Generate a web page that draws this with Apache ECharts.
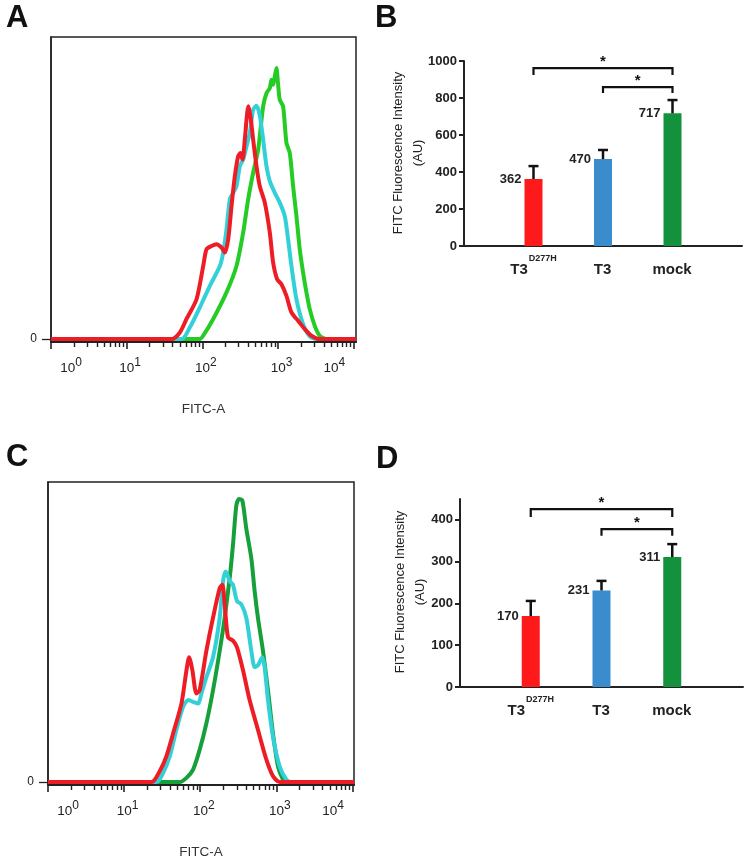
<!DOCTYPE html>
<html><head><meta charset="utf-8">
<script src="https://cdn.jsdelivr.net/npm/echarts@6/dist/echarts.min.js"></script>
<style>html,body{margin:0;padding:0;background:#fff}#c{width:745px;height:860px}</style>
</head><body><div id="c"></div>
<script>
const FONT = '"Liberation Sans", Arial, sans-serif';

// ---- Histogram axis (log10 of FITC-A) ----
const decadeTicks = [0, 1, 2, 3, 4];
const decadeExp = ['0', '1', '2', '3', '4'];
const histXName = 'FITC-A';

// ---- Panel A histograms (x = log10 FITC-A, y = % of max) ----
const A_green_x = [0,1.967,2.011,2.143,2.319,2.451,2.539,2.605,2.671,2.737,2.803,2.847,2.891,2.913,2.935,2.957,2.979,3.001,3.023,3.067,3.111,3.155,3.199,3.243,3.287,3.331,3.375,3.419,3.485,3.551,3.639,4.03];
const A_green_y = [0,0,1.1,6.7,15.6,24.4,35.6,46.7,55.6,63.3,77.8,82.2,83.9,86.7,85,87.8,90.6,85,80,77.8,65.6,62.2,51.1,41.1,30,22.2,15.6,10,4.4,1.1,0,0];
const A_cyan_x = [0,1.725,1.835,1.967,2.099,2.231,2.275,2.319,2.363,2.407,2.451,2.495,2.539,2.583,2.627,2.671,2.715,2.759,2.803,2.847,2.891,2.957,3.023,3.089,3.133,3.177,3.243,3.331,3.419,3.507,4.03];
const A_cyan_y = [0,0,3.9,10.6,17.8,24.4,28.9,36.7,46.7,48.9,51.1,57.8,60,64.4,68.9,76.7,78,74.7,66.7,57.8,52.8,48.9,45.6,41.1,33.3,24.4,13.3,5,0.9,0,0];
const A_red_x = [0,1.593,1.703,1.791,1.923,2.011,2.055,2.121,2.187,2.253,2.297,2.341,2.385,2.429,2.473,2.503,2.530,2.561,2.592,2.609,2.636,2.671,2.715,2.759,2.825,2.891,2.935,2.988,3.045,3.111,3.177,3.265,3.353,3.441,3.551,4.03];
const A_red_y = [0,0,2.2,6.7,13.3,24.4,30,31.1,31.7,30.6,28.9,33.3,44.4,54.4,61.1,62.2,60,66.7,75.6,77.8,74.4,66.7,57.8,51.1,45.6,35.6,25.6,20,18.3,14.4,8.9,6.1,3.3,1.1,0,0];

// ---- Panel C histograms ----
const C_green_x = [0,1.731,1.819,1.906,1.993,2.081,2.168,2.256,2.321,2.387,2.43,2.474,2.509,2.553,2.605,2.671,2.715,2.758,2.824,2.89,2.955,3.021,3.086,3.13,4.02];
const C_green_y = [0,0,1.4,4.2,10.9,19.8,30.9,44.2,55.3,68.7,79.8,93.1,95.3,94.8,85.3,75.3,64.2,55.3,44.2,30.9,16.4,5.3,0.9,0,0];
const C_cyan_x = [0,1.425,1.513,1.6,1.687,1.775,1.84,1.906,1.972,2.015,2.081,2.168,2.256,2.299,2.334,2.387,2.43,2.483,2.54,2.605,2.671,2.715,2.758,2.815,2.846,2.89,2.955,3.043,3.13,3.196,4.02];
const C_cyan_y = [0,0,3.1,8.7,17.6,25.3,27.6,27,26.4,29.8,35.3,42,55.3,67.6,70.9,67.6,66.4,60.9,59.8,55.3,44.2,38.7,39.3,42,38.7,27.6,15.3,5.3,0.9,0,0];
const C_red_x = [0,1.36,1.469,1.556,1.644,1.753,1.819,1.854,1.897,1.95,1.993,2.081,2.168,2.256,2.291,2.321,2.365,2.43,2.483,2.562,2.649,2.758,2.868,2.955,3.043,4.02];
const C_red_y = [0,0,3.7,8.7,16.4,26.4,37.6,42,37.6,29.8,31,44.2,55.3,65.3,66.4,59.8,48.7,47.6,45.3,37.6,27.6,17.6,7.6,2,0,0];

// ---- Bar panels ----
const barCats = ['T3', 'T3', 'mock'];
const barSups = ['D277H', '', ''];
const barPos = [1, 2, 3];
const B_values = [362, 470, 717];
const B_errors = [70, 49, 72];
const D_values = [170, 231, 311];
const D_errors = [36, 23, 31];
const B_yTicks = [0, 200, 400, 600, 800, 1000];
const D_yTicks = [0, 100, 200, 300, 400];
// brackets: [from, to, top value, drop value]
const B_brackets = [[1, 3, 962, 924], [2, 3, 859, 827]];
const D_brackets = [[1, 3, 426, 407], [2, 3, 378, 362]];
const yTitle = 'FITC Fluorescence Intensity\n(AU)';

const histColors = { red: '#ee1c24', cyan: '#33d0d8', greenA: '#26cc26', greenC: '#15a03a' };
const barColors = ['#fe1a1a', '#3b8ccc', '#14913c'];

// ----------------------------------------------------------
const zip = (xs, ys) => xs.map((x, i) => [x, ys[i]]);
const minorTicks = [];
for (let n = 0; n < 4; n++) for (let k = 2; k <= 9; k++) minorTicks.push(n + Math.log10(k));

function histLabel(v) {
  const i = decadeTicks.indexOf(v);
  if (i < 0) return '';
  const last = decadeTicks.length - 1;
  const b = i === 0 ? 'b0' : 'b';
  const s = i === last ? 's4' : 's';
  return '{' + b + '|10}{' + s + '|' + decadeExp[i] + '}';
}
const histRich = {
  b: { fontFamily: FONT, fontSize: 13.5, color: '#222', padding: [0, 0, 0, 7] },
  b0: { fontFamily: FONT, fontSize: 13.5, color: '#222', padding: [0, 0, 0, 40] },
  s: { fontFamily: FONT, fontSize: 12, color: '#222', padding: [0, 0, 11, 0] },
  s4: { fontFamily: FONT, fontSize: 12, color: '#222', padding: [0, 46, 11, 0] }
};

function histX(grid, max) {
  return {
    type: 'value', gridIndex: grid, min: 0, max: max, position: 'bottom',
    axisLine: { show: true, onZero: false, lineStyle: { color: '#222', width: 2 } },
    axisTick: { show: true, customValues: decadeTicks, length: 7, lineStyle: { color: '#222', width: 1.6 } },
    axisLabel: { customValues: decadeTicks, formatter: histLabel, rich: histRich, margin: 15 },
    splitLine: { show: false },
    name: histXName, nameLocation: 'middle', nameGap: 60,
    nameTextStyle: { fontFamily: FONT, fontSize: 13.5, color: '#333' }
  };
}
function histY(grid) {
  return {
    type: 'value', gridIndex: grid, min: -1, max: 101,
    axisLine: { show: true, onZero: false, lineStyle: { color: '#222', width: 1.5 } },
    axisTick: { show: true, customValues: [0], length: 9, lineStyle: { color: '#222', width: 1.3 } },
    axisLabel: { customValues: [0], fontFamily: FONT, fontSize: 12, color: '#222', margin: 14 },
    splitLine: { show: false }
  };
}
function minorTickSeries(xi, yi) {
  return {
    type: 'custom', xAxisIndex: xi, yAxisIndex: yi, data: minorTicks.map(v => [v]), clip: false, silent: true, z: 1,
    renderItem: (p, api) => {
      const c = api.coord([api.value(0), -1]);
      const x = Math.round(c[0]) + 0.5;
      return { type: 'line', shape: { x1: x, y1: c[1], x2: x, y2: c[1] + 5 }, style: { stroke: '#222', lineWidth: 1.4 } };
    }
  };
}
function barX(grid) {
  return {
    type: 'value', gridIndex: grid, min: 0, max: 4,
    axisLine: { show: true, onZero: false, lineStyle: { color: '#222', width: 2 } },
    axisTick: { show: false },
    axisLabel: {
      customValues: barPos, margin: 8,
      formatter: v => { const i = barPos.indexOf(v); return '{b|' + barCats[i] + '}{s|' + (barSups[i] || '\u200b') + '}'; },
      rich: {
        b: { fontFamily: FONT, fontSize: 15, fontWeight: 'bold', color: '#222' },
        s: { fontFamily: FONT, fontSize: 9, fontWeight: 'bold', color: '#222', padding: [0, 0, 22, 1] }
      }
    },
    splitLine: { show: false }
  };
}
function barY(grid, max, ticks, interval) {
  return {
    type: 'value', gridIndex: grid, min: 0, max: max, interval: interval,
    axisLine: { show: true, onZero: false, lineStyle: { color: '#222', width: 2 } },
    axisTick: { show: true, customValues: ticks, length: 5, lineStyle: { color: '#222', width: 2 } },
    axisLabel: { customValues: ticks, formatter: v => String(v), fontFamily: FONT, fontSize: 13, fontWeight: 'bold', color: '#222', margin: 7 },
    splitLine: { show: false }
  };
}
function yTitleText(cx, cy) {
  return { type: 'text', x: cx, y: cy, rotation: Math.PI / 2, silent: true,
    style: { text: yTitle, align: 'center', verticalAlign: 'middle', fontFamily: FONT, fontSize: 13, lineHeight: 20, fill: '#222' } };
}
function histLine(xi, yi, xs, ys, color) {
  return {
    type: 'line', xAxisIndex: xi, yAxisIndex: yi, data: zip(xs, ys), symbol: 'none', smooth: 0.25,
    lineStyle: { color: color, width: 4 }, itemStyle: { color: color }, clip: true, silent: true
  };
}
function barSeries(xi, yi, vals, errs, brackets) {
  const pts = barPos.map((x, i) => [x, vals[i], errs[i]]);
  return [
    {
      type: 'bar', xAxisIndex: xi, yAxisIndex: yi, barWidth: 18,
      data: barPos.map((x, i) => ({ value: [x, vals[i]], itemStyle: { color: barColors[i] } }))
    },
    {
      type: 'custom', xAxisIndex: xi, yAxisIndex: yi, data: pts, z: 5,
      renderItem: (p, api) => {
        const x = api.value(0), v = api.value(1), e = api.value(2);
        const a = api.coord([x, v]), b = api.coord([x, v + e]);
        return { type: 'group', children: [
          { type: 'line', shape: { x1: a[0], y1: a[1], x2: b[0], y2: b[1] }, style: { stroke: '#111', lineWidth: 2.5 } },
          { type: 'line', shape: { x1: b[0] - 5, y1: b[1], x2: b[0] + 5, y2: b[1] }, style: { stroke: '#111', lineWidth: 2.5 } }
        ] };
      }
    },
    {
      type: 'scatter', xAxisIndex: xi, yAxisIndex: yi, symbolSize: 0, data: pts.map(p => [p[0], p[1]]),
      label: { show: true, position: 'left', distance: 12, formatter: p => p.value[1],
        fontFamily: FONT, fontSize: 13, fontWeight: 'bold', color: '#222', opacity: 1 },
      emphasis: { disabled: true }
    },
    {
      type: 'custom', xAxisIndex: xi, yAxisIndex: yi, data: brackets, z: 5,
      renderItem: (p, api) => {
        const x1 = api.value(0), x2 = api.value(1), t = api.value(2), d = api.value(3);
        const a = api.coord([x1, d]), b = api.coord([x1, t]), c = api.coord([x2, t]), e = api.coord([x2, d]);
        return { type: 'group', children: [
          { type: 'polyline', shape: { points: [a, b, c, e] }, style: { stroke: '#111', lineWidth: 2.2, fill: null } },
          { type: 'text', style: { text: '*', x: (b[0] + c[0]) / 2, y: b[1] + 1, align: 'center', verticalAlign: 'bottom',
            fontFamily: FONT, fontSize: 15, fontWeight: 'bold', fill: '#111' } }
        ] };
      }
    }
  ];
}

const letterStyle = { fontFamily: FONT, fontSize: 31, fontWeight: 'bold', color: '#111' };
const chart = echarts.init(document.getElementById('c'), null, { renderer: 'canvas' });
chart.setOption({
  animation: false,
  backgroundColor: '#fff',
  title: [
    { text: 'A', left: 6, top: 3, padding: 0, textStyle: letterStyle },
    { text: 'B', left: 375, top: 3, padding: 0, textStyle: letterStyle },
    { text: 'C', left: 6, top: 442, padding: 0, textStyle: letterStyle },
    { text: 'D', left: 376, top: 444, padding: 0, textStyle: letterStyle }
  ],
  graphic: [yTitleText(408, 153), yTitleText(410, 592)],
  grid: [
    { left: 51, top: 37, width: 305, height: 305, show: true, borderColor: '#222', borderWidth: 1.5, backgroundColor: 'transparent' },
    { left: 464, top: 61, width: 278, height: 185 },
    { left: 48, top: 482, width: 306, height: 306, show: true, borderColor: '#222', borderWidth: 1.5, backgroundColor: 'transparent' },
    { left: 460, top: 499, width: 283, height: 188 }
  ],
  xAxis: [histX(0, 4.03), barX(1), histX(2, 4.02), barX(3)],
  yAxis: [
    histY(0),
    barY(1, 1000, B_yTicks, 200),
    histY(2),
    barY(3, 450, D_yTicks, 50)
  ],
  series: [
    minorTickSeries(0, 0),
    histLine(0, 0, A_green_x, A_green_y, histColors.greenA),
    histLine(0, 0, A_cyan_x, A_cyan_y, histColors.cyan),
    histLine(0, 0, A_red_x, A_red_y, histColors.red),
    ...barSeries(1, 1, B_values, B_errors, B_brackets),
    minorTickSeries(2, 2),
    histLine(2, 2, C_green_x, C_green_y, histColors.greenC),
    histLine(2, 2, C_cyan_x, C_cyan_y, histColors.cyan),
    histLine(2, 2, C_red_x, C_red_y, histColors.red),
    ...barSeries(3, 3, D_values, D_errors, D_brackets)
  ]
});
</script></body></html>
